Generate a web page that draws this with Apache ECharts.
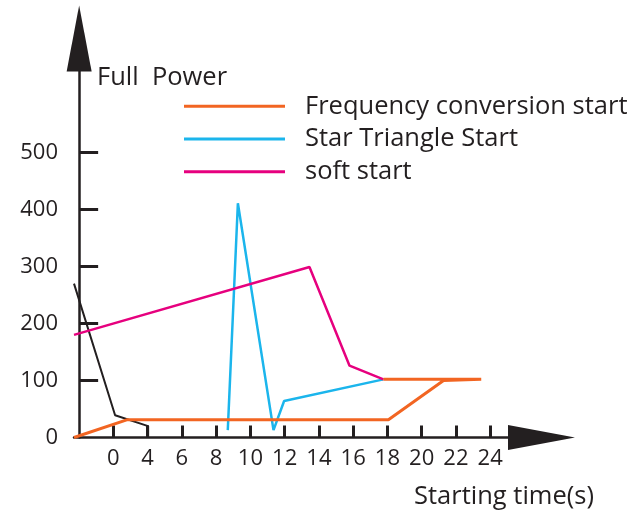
<!DOCTYPE html>
<html style="height: 100%">
<head>
    <meta charset="utf-8">
    <script src="https://cdn.jsdelivr.net/npm/echarts@6/dist/echarts.min.js"></script>
</head>
<body style="height: 100%; margin: 0; background: #fff">
    <div id="main" style="width:630px;height:518px;"></div>
    <script type="text/javascript">
    // tick positions on the time axis and the labels printed under them
    var xTicks = [2, 4, 6, 8, 10, 12, 14, 16, 18, 20, 22, 24];
    var xLabels = ['0', '4', '6', '8', '10', '12', '14', '16', '18', '20', '22', '24'];
    var yTicks = [0, 100, 200, 300, 400, 500];

    var seriesNames = ['Frequency conversion start', 'Star Triangle Start', 'soft start'];

    // [time, power]
    var freqData = [[-0.3, 0], [2.78, 31], [18.06, 31], [21.28, 100], [23.48, 102], [17.77, 102]];
    var starData = [[8.68, 13], [9.27, 411], [11.35, 13], [11.97, 64], [17.77, 102]];
    var softData = [[-0.3, 180], [13.45, 299], [15.79, 126], [17.77, 102]];
    var directData = [[-0.3, 270], [2.1, 39], [4.03, 20], [4.03, 0]];

    var ink = '#231f20';
    var font = 'Open Sans';

    var myChart = echarts.init(document.getElementById('main'));

    var option = {
        animation: false,
        color: ['#f26522', '#1bb5ec', '#e6007e'],
        textStyle: { fontFamily: font },
        title: [
            {
                text: 'Full  Power',
                left: 97, top: 65, padding: 0,
                textStyle: { fontFamily: font, fontSize: 25.5, fontWeight: 'normal', color: ink }
            },
            {
                text: 'Starting time(s)',
                left: 414, top: 484, padding: 0,
                textStyle: { fontFamily: font, fontSize: 25.5, fontWeight: 'normal', color: ink }
            }
        ],
        legend: {
            data: seriesNames,
            orient: 'vertical',
            left: 184,
            top: 90,
            padding: 0,
            itemGap: 0,
            icon: 'rect',
            itemWidth: 101,
            itemHeight: 3,
            textStyle: {
                fontFamily: font,
                fontSize: 25.5,
                color: ink,
                lineHeight: 22.7,
                padding: [10, 0, 0, 15]
            }
        },
        grid: { left: 74, right: 88.5, top: 38.5, bottom: 80.5, containLabel: false },
        xAxis: {
            type: 'value',
            min: -0.3,
            max: 27,
            splitLine: { show: false },
            axisLine: {
                onZero: false,
                lineStyle: { color: ink, width: 2.5 },
                symbol: ['none', 'triangle'],
                symbolSize: [25, 67]
            },
            axisTick: {
                inside: true, length: 12, customValues: xTicks,
                lineStyle: { color: ink, width: 3 }
            },
            axisLabel: {
                customValues: xTicks,
                margin: 10,
                fontFamily: font,
                fontSize: 22,
                color: ink,
                formatter: function (v) { return xLabels[xTicks.indexOf(v)]; }
            }
        },
        yAxis: {
            type: 'value',
            min: 0,
            max: 700,
            splitLine: { show: false },
            axisLine: {
                show: true,
                lineStyle: { color: ink, width: 2.5 },
                symbol: ['none', 'triangle'],
                symbolSize: [25, 66]
            },
            axisTick: {
                show: true, inside: true, length: 19, customValues: yTicks.slice(1),
                lineStyle: { color: ink, width: 3 }
            },
            axisLabel: {
                customValues: yTicks,
                margin: 16,
                fontFamily: font,
                fontSize: 22,
                color: ink
            }
        },
        series: [
            {
                name: seriesNames[0], type: 'line', data: freqData,
                showSymbol: false, lineStyle: { width: 3 }, z: 3
            },
            {
                name: seriesNames[1], type: 'line', data: starData,
                showSymbol: false, lineStyle: { width: 2.5 }, z: 2
            },
            {
                name: seriesNames[2], type: 'line', data: softData,
                showSymbol: false, lineStyle: { width: 2.5 }, z: 2
            },
            {
                name: 'direct', type: 'line', data: directData,
                showSymbol: false, color: ink, lineStyle: { width: 2 }, z: 1
            }
        ]
    };

    option && myChart.setOption(option);
    </script>
</body>
</html>
